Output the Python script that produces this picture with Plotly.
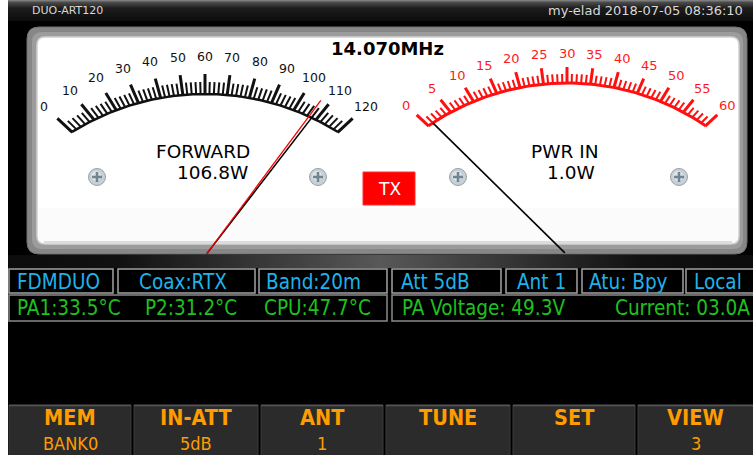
import numpy as np
import plotly.graph_objects as go

W, H = 753, 455

# ---------------- data ----------------
device_name = "DUO-ART120"
clock_text = "my-elad 2018-07-05 08:36:10"
frequency_text = "14.070MHz"

fwd_labels = [0, 10, 20, 30, 40, 50, 60, 70, 80, 90, 100, 110, 120]
fwd_minor_step = 2
fwd_max = 120
fwd_value = 106.8          # red needle (FORWARD)
fwd_title = "FORWARD"

pwr_labels = [0, 5, 10, 15, 20, 25, 30, 35, 40, 45, 50, 55, 60]
pwr_minor_step = 1
pwr_max = 60
pwr_value = 1.0            # PWR IN
pwr_title = "PWR IN"

status_labels = ["FDMDUO", "Coax:RTX", "Band:20m", "Att 5dB", "Ant 1", "Atu: Bpy", "Local"]
temp_names = ["PA1", "P2", "CPU"]
temp_values = [33.5, 31.2, 47.7]
pa_voltage = 49.3
pa_current = 3.0

button_labels = ["MEM", "IN-ATT", "ANT", "TUNE", "SET", "VIEW"]
button_values = ["BANK0", "5dB", "1", "", "", "3"]

# ---------------- layout / style ----------------
FONT = "DejaVu Sans"
CFONT = "DejaVu Sans Condensed, DejaVu Sans"
SPAN = 47.0
status_box_x = [(9, 113), (118, 255), (259, 387), (392, 501), (506, 577), (582, 683), (686, 760)]
status_text_x = [15, 137, 264, 399, 515, 587, 692]
row1_y = (269, 293)
row2_y = (295, 321)
row2_box_x = [(9, 387), (392, 760)]
temp_text_x = [15, 143, 262]
button_x = [(9, 131), (134, 258), (261, 383), (386, 510), (513, 635), (638, 760)]
button_y = (405, 455)
CYAN = "#1fb2ea"
GREEN = "#1fc01f"
ORANGE = "#ff9c00"

gauges = [
    dict(labels=fwd_labels, step=fwd_minor_step, vmax=fwd_max, value=fwd_value,
         pivot=(205, 256), d=90, R=252, major_len=20, minor_len=12, label_off=38,
         color="#111111", label_color="#111111", major_w=3.0, minor_w=2.0, arc_w=2.5,
         label_size=12.5),
    dict(labels=pwr_labels, step=pwr_minor_step, vmax=pwr_max, value=pwr_value,
         pivot=(567, 255), d=74, R=246, major_len=16, minor_len=9, label_off=30,
         color="#ff1010", label_color="#ff1a1a", major_w=3.0, minor_w=2.0, arc_w=3.0,
         label_size=13),
]


def angle_of(v, vmax):
    return -SPAN + 2 * SPAN * v / vmax


def t_arc(theta, d, R):
    th = np.radians(theta)
    c = np.cos(th)
    return -d * c + np.sqrt(d * d * c * c + R * R - d * d)


def pt(pivot, theta, t):
    th = np.radians(theta)
    return pivot[0] + t * np.sin(th), pivot[1] - t * np.cos(th)


def rrect(x0, y0, x1, y1, r):
    return (f"M {x0+r},{y0} L {x1-r},{y0} Q {x1},{y0} {x1},{y0+r} "
            f"L {x1},{y1-r} Q {x1},{y1} {x1-r},{y1} L {x0+r},{y1} "
            f"Q {x0},{y1} {x0},{y1-r} L {x0},{y0+r} Q {x0},{y0} {x0+r},{y0} Z")


fig = go.Figure()
shapes = []
ann = []

# screen background
shapes.append(dict(type="rect", x0=8, x1=W + 5, y0=0, y1=H + 5, fillcolor="#000000", line_width=0, layer="below"))
# meter frame
shapes.append(dict(type="path", path=rrect(27, 27, 747, 254, 12), fillcolor="#878787",
                   line=dict(color="#707070", width=1), layer="below"))
shapes.append(dict(type="path", path=rrect(32, 32, 743, 249, 10), fillcolor="#9c9c9c",
                   line=dict(width=0), layer="below"))
shapes.append(dict(type="path", path=rrect(37, 37, 739, 244, 8), fillcolor="#ffffff",
                   line=dict(color="#d0d0d0", width=1.5), layer="below"))
shapes.append(dict(type="path", path=f"M 38,208 L 738,208 L 738,236 Q 738,243 731,243 L 45,243 Q 38,243 38,236 Z",
                   fillcolor="#fbfbfb", line=dict(width=0), layer="below"))
shapes.append(dict(type="line", x0=44, x1=732, y0=242, y1=242, line=dict(color="#dcdcdc", width=2), layer="below"))

# screws
for cx in [97, 318, 458, 679]:
    cy = 177
    shapes.append(dict(type="circle", x0=cx - 8.5, x1=cx + 8.5, y0=cy - 8.5, y1=cy + 8.5,
                       fillcolor="#c8d0d5", line=dict(color="#97a2a8", width=1), layer="below"))
    shapes.append(dict(type="circle", x0=cx - 6, x1=cx + 4, y0=cy - 6, y1=cy + 4,
                       fillcolor="#dde3e6", line=dict(width=0), layer="below"))
    shapes.append(dict(type="line", x0=cx - 5, x1=cx + 5, y0=cy, y1=cy,
                       line=dict(color="#6f8594", width=2.5), layer="below"))
    shapes.append(dict(type="line", x0=cx, x1=cx, y0=cy - 5, y1=cy + 5,
                       line=dict(color="#6f8594", width=2.5), layer="below"))

# TX box
shapes.append(dict(type="rect", x0=363, x1=415, y0=172, y1=205, fillcolor="#ff0000",
                   line=dict(color="#ff3030", width=1), layer="below"))

# status boxes
for (x0, x1) in status_box_x:
    shapes.append(dict(type="rect", x0=x0, x1=x1, y0=row1_y[0], y1=row1_y[1], fillcolor="#000000",
                       line=dict(color="#a2a2a2", width=1.5), layer="below"))
for (x0, x1) in row2_box_x:
    shapes.append(dict(type="rect", x0=x0, x1=x1, y0=row2_y[0], y1=row2_y[1], fillcolor="#000000",
                       line=dict(color="#8a8a8a", width=1.5), layer="below"))

# buttons
for (x0, x1) in button_x:
    shapes.append(dict(type="rect", x0=x0, x1=x1, y0=button_y[0], y1=button_y[1] + 2, fillcolor="#2b2b2b",
                       line=dict(color="#3c3c3c", width=1), layer="below"))
    shapes.append(dict(type="line", x0=x0, x1=x1, y0=button_y[0] + 0.5, y1=button_y[0] + 0.5,
                       line=dict(color="#555555", width=1.5), layer="below"))

# gradients (traces)
fig.add_trace(go.Scatter(x=[8, W, W, 8, 8], y=[0, 0, 21, 21, 0], fill="toself", mode="lines",
                         line=dict(width=0), hoverinfo="skip", showlegend=False,
                         fillgradient=dict(type="vertical", start=0, stop=21,
                                           colorscale=[[0, "#8a8a8a"], [0.12, "#4a4a4a"],
                                                       [0.4, "#1c1c1c"], [1, "#0c0c0c"]])))
fig.add_trace(go.Scatter(x=[8, W, W, 8, 8], y=[255, 255, 268, 268, 255], fill="toself", mode="lines",
                         line=dict(width=0), hoverinfo="skip", showlegend=False,
                         fillgradient=dict(type="horizontal", start=8, stop=W,
                                           colorscale=[[0, "#0c0c0c"], [0.15, "#111111"],
                                                       [0.5, "#585858"], [0.85, "#111111"],
                                                       [1, "#0c0c0c"]])))

# gauge scales
for g in gauges:
    pv, d, R = g["pivot"], g["d"], g["R"]
    major_step = g["labels"][1] - g["labels"][0]
    mx, my, nx, ny = [], [], [], []
    for v in range(0, g["vmax"] + 1, g["step"]):
        th = angle_of(v, g["vmax"])
        t0 = t_arc(th, d, R)
        is_major = (v % major_step == 0)
        L = g["major_len"] if is_major else g["minor_len"]
        xa, ya = pt(pv, th, t0 - 0.5)
        xb, yb = pt(pv, th, t0 + L)
        if is_major:
            mx += [xa, xb, None]; my += [ya, yb, None]
        else:
            nx += [xa, xb, None]; ny += [ya, yb, None]
    ths = np.linspace(-SPAN, SPAN, 120)
    ax_, ay_ = zip(*[pt(pv, th, t_arc(th, d, R)) for th in ths])
    fig.add_trace(go.Scatter(x=list(ax_), y=list(ay_), mode="lines",
                             line=dict(color=g["color"], width=g["arc_w"]), hoverinfo="skip", showlegend=False))
    fig.add_trace(go.Scatter(x=nx, y=ny, mode="lines", line=dict(color=g["color"], width=g["minor_w"]),
                             hoverinfo="skip", showlegend=False))
    fig.add_trace(go.Scatter(x=mx, y=my, mode="lines", line=dict(color=g["color"], width=g["major_w"]),
                             hoverinfo="skip", showlegend=False))
    for lab in g["labels"]:
        th = angle_of(lab, g["vmax"])
        lx, ly = pt(pv, th, t_arc(th, d, R) + g["label_off"])
        ann.append(dict(x=lx, y=ly, text=str(lab), showarrow=False, xanchor="center", yanchor="middle",
                        font=dict(family=FONT, size=g["label_size"], color=g["label_color"])))

# needles
g0 = gauges[0]
th = angle_of(g0["value"], g0["vmax"])
xa, ya = pt(g0["pivot"], th + 1.0, 3)
xb, yb = pt(g0["pivot"], th + 1.0, t_arc(th + 1.0, g0["d"], g0["R"]) + 2)
fig.add_trace(go.Scatter(x=[xa, xb], y=[ya, yb], mode="lines", line=dict(color="#000000", width=1.6),
                         hoverinfo="skip", showlegend=False))
xa, ya = pt(g0["pivot"], th, 3)
xb, yb = pt(g0["pivot"], th, t_arc(th, g0["d"], g0["R"]) + 20)
fig.add_trace(go.Scatter(x=[xa, xb], y=[ya, yb], mode="lines", line=dict(color="#ff0000", width=1.3),
                         hoverinfo="skip", showlegend=False))
g1 = gauges[1]
th = angle_of(g1["value"], g1["vmax"])
xa, ya = pt(g1["pivot"], th, 3)
xb, yb = pt(g1["pivot"], th, t_arc(th, g1["d"], g1["R"]))
fig.add_trace(go.Scatter(x=[xa, xb], y=[ya, yb], mode="lines", line=dict(color="#000000", width=1.6),
                         hoverinfo="skip", showlegend=False))

# texts
ann.append(dict(x=30, y=10, text=device_name, xanchor="left", yanchor="middle", showarrow=False,
                font=dict(family=FONT, size=11, color="#d8d8d8")))
ann.append(dict(x=745, y=10, text=clock_text, xanchor="right", yanchor="middle", showarrow=False,
                font=dict(family=FONT, size=13, color="#d8d8d8")))
ann.append(dict(x=387, y=48, text=f"<b>{frequency_text}</b>", xanchor="center", yanchor="middle", showarrow=False,
                font=dict(family=FONT, size=18, color="#000000")))
ann.append(dict(x=252, y=151, text=fwd_title, xanchor="right", yanchor="middle", showarrow=False,
                font=dict(family=FONT, size=18.5, color="#000000")))
ann.append(dict(x=250, y=172, text=f"{fwd_value:.1f}W", xanchor="right", yanchor="middle", showarrow=False,
                font=dict(family=FONT, size=18.5, color="#000000")))
ann.append(dict(x=600, y=151, text=pwr_title, xanchor="right", yanchor="middle", showarrow=False,
                font=dict(family=FONT, size=18.5, color="#000000")))
ann.append(dict(x=597, y=172, text=f"{pwr_value:.1f}W", xanchor="right", yanchor="middle", showarrow=False,
                font=dict(family=FONT, size=18.5, color="#000000")))
ann.append(dict(x=389, y=189, text="TX", xanchor="center", yanchor="middle", showarrow=False,
                font=dict(family=FONT, size=17, color="#ffffff")))

for lab, x in zip(status_labels, status_text_x):
    ann.append(dict(x=x, y=282, text=lab, xanchor="left", yanchor="middle", showarrow=False,
                    font=dict(family=CFONT, size=20.5, color=CYAN)))
for name, val, x in zip(temp_names, temp_values, temp_text_x):
    ann.append(dict(x=x, y=308, text=f"{name}:{val:.1f}°C", xanchor="left", yanchor="middle", showarrow=False,
                    font=dict(family=CFONT, size=20.5, color=GREEN)))
ann.append(dict(x=400, y=308, text=f"PA Voltage: {pa_voltage:.1f}V", xanchor="left", yanchor="middle",
                showarrow=False, font=dict(family=CFONT, size=20.5, color=GREEN)))
ann.append(dict(x=752, y=308, text=f"Current: {pa_current:04.1f}A", xanchor="right", yanchor="middle",
                showarrow=False, font=dict(family=CFONT, size=20.5, color=GREEN)))

for (x0, x1), lab, val in zip(button_x, button_labels, button_values):
    cx = (x0 + min(x1, W)) / 2
    ann.append(dict(x=cx, y=417.5, text=f"<b>{lab}</b>", xanchor="center", yanchor="middle", showarrow=False,
                    font=dict(family=CFONT, size=21.5, color=ORANGE)))
    if val:
        ann.append(dict(x=cx, y=443.5, text=val, xanchor="center", yanchor="middle", showarrow=False,
                        font=dict(family=CFONT, size=18, color=ORANGE)))

fig.update_layout(
    width=W, height=H, margin=dict(l=0, r=0, t=0, b=0),
    paper_bgcolor="#ffffff", plot_bgcolor="#ffffff",
    xaxis=dict(range=[0, W], visible=False, fixedrange=True),
    yaxis=dict(range=[H, 0], visible=False, fixedrange=True),
    shapes=shapes, annotations=ann, showlegend=False,
)
fig.write_html("out.html", config={"displayModeBar": False},
               post_script="document.body.style.margin='0';document.body.style.padding='0';"
                           "document.body.style.overflow='hidden';")
